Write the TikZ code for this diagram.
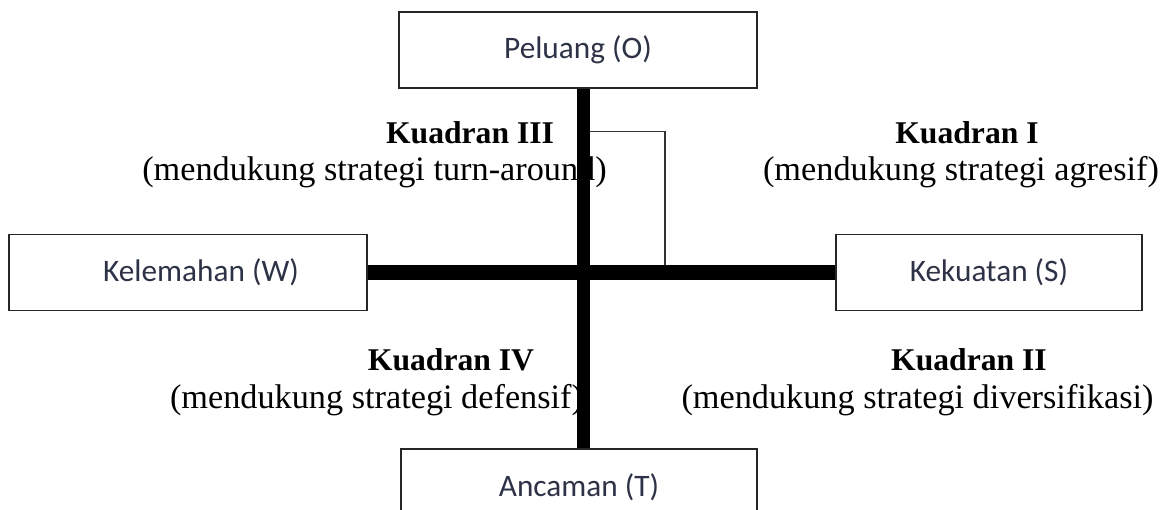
\documentclass[tikz,border=0pt]{standalone}
\usepackage{fontspec}
\setmainfont{Liberation Serif}
\newfontfamily\kotakfont{Carlito}
\definecolor{tekskotak}{RGB}{45,50,70}

\tikzset{
  kotak/.style={draw=black!85, line width=0.9pt, minimum height=1.52cm,
    font=\kotakfont\fontsize{17.8}{21}\selectfont, text=tekskotak},
  judul/.style={font=\bfseries\fontsize{18}{22}\selectfont},
  isi/.style={font=\fontsize{19.5}{23}\selectfont},
  poros/.style={line width=#1, black},
  siku/.style={line width=0.85pt, black!80}
}

\begin{document}
\begin{tikzpicture}

    % frame of the picture
    \clip (0,0) rectangle (23.32,-10.18);

    % quadrant labels
    \node[judul] (k3judul) at (9.40,-2.66) {Kuadran III};
    \node[isi]   (k3isi)   at (7.49,-3.44) {(mendukung strategi turn-around)};
    \node[judul] (k1judul) at (19.34,-2.66) {Kuadran I};
    \node[isi]   (k1isi)   at (19.22,-3.44) {(mendukung strategi agresif)};
    \node[judul] (k4judul) at (9.02,-7.20) {Kuadran IV};
    \node[isi]   (k4isi)   at (7.53,-8.00) {(mendukung strategi defensif)};
    \node[judul] (k2judul) at (19.38,-7.20) {Kuadran II};
    \node[isi]   (k2isi)   at (18.35,-8.00) {(mendukung strategi diversifikasi)};

    % boxes
    \node[kotak, minimum width=7.16cm] (peluang)   at (11.56,-1.00) {Peluang (O)};
    \node[kotak, minimum width=7.16cm] (kelemahan) at (3.76,-5.45) {\hspace*{0.52cm}Kelemahan (W)};
    \node[kotak, minimum width=6.12cm] (kekuatan)  at (19.78,-5.45) {Kekuatan (S)};
    \node[kotak, minimum width=7.12cm] (ancaman)   at (11.58,-9.74) {Ancaman (T)};

    \coordinate (pusat) at (11.67,-5.48);
    \coordinate (belok) at (13.30,-2.63);

    % thin bracket
    \draw[siku] (belok -| pusat) -- (belok) -- (belok |- kelemahan.east);

    % axes
    \draw[poros=7.4pt] (peluang.south -| pusat) -- (ancaman.north -| pusat);
    \draw[poros=9pt] (kelemahan.east) -- (kekuatan.west);

\end{tikzpicture}
\end{document}
